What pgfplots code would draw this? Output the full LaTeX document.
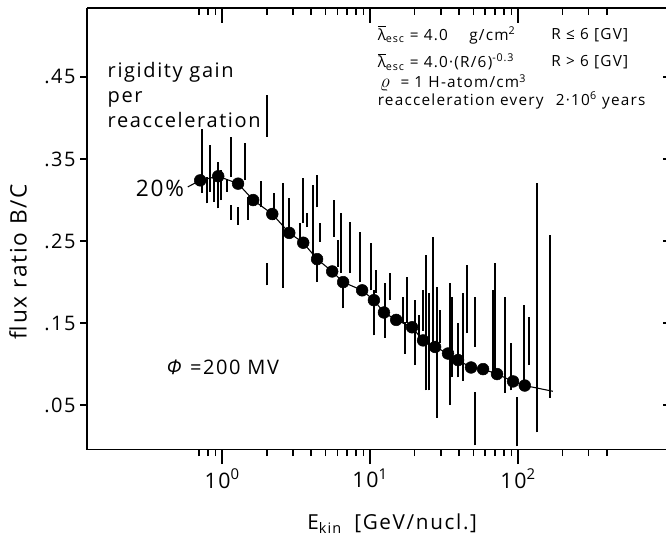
\documentclass[border=0pt]{standalone}
\usepackage{fontspec}
\setmainfont{Open Sans}[LetterSpace=8]
\usepackage{pgfplots}
\usepackage{pgfplotstable}
\pgfplotsset{compat=1.18}

\newcommand\fsz[2]{\fontsize{#1pt}{#2pt}\selectfont}
\newcommand\lesc{\makebox[0pt][l]{\raisebox{1.62ex}{\rule{0.52em}{0.55pt}}}λ\textsubscript{esc}}

% model curve with the dots on it
\pgfplotstableread{
E R
0.71 0.324
0.94 0.329
1.28 0.320
1.62 0.300
2.18 0.283
2.84 0.260
3.53 0.248
4.38 0.228
5.54 0.213
6.57 0.200
8.83 0.190
10.6 0.178
12.4 0.163
15.0 0.154
19.2 0.145
22.8 0.129
27.5 0.121
33.6 0.113
39.3 0.105
48.1 0.096
58.0 0.094
72.1 0.088
92.5 0.079
111 0.074
}\fitpts

\pgfplotstableread{
E R
0.71 0.324
0.94 0.329
1.28 0.320
1.62 0.300
2.18 0.283
2.84 0.260
3.53 0.248
4.38 0.228
5.54 0.213
6.57 0.200
8.83 0.190
10.6 0.178
12.4 0.163
15.0 0.154
19.2 0.145
22.8 0.129
27.5 0.121
33.6 0.113
39.3 0.105
48.1 0.096
58.0 0.094
72.1 0.088
92.5 0.079
111 0.074
172 0.067
}\fitline

% measured ratios: energy, lower and upper end of the bar
\pgfplotstableread{
E lo hi
0.733 0.309 0.387
0.792 0.296 0.328
0.830 0.310 0.367
0.883 0.298 0.333
0.940 0.290 0.346
0.985 0.300 0.337
1.081 0.310 0.324
1.150 0.328 0.377
1.150 0.276 0.294
1.283 0.270 0.292
1.430 0.324 0.370
1.498 0.276 0.304
1.834 0.291 0.323
2.014 0.196 0.223
2.014 0.377 0.428
2.246 0.276 0.309
2.584 0.193 0.321
2.836 0.263 0.302
3.365 0.243 0.272
3.526 0.272 0.327
3.752 0.267 0.284
4.120 0.231 0.318
4.385 0.291 0.330
4.385 0.200 0.231
4.595 0.249 0.272
5.713 0.255 0.300
6.079 0.218 0.251
6.370 0.211 0.284
6.571 0.168 0.206
7.325 0.211 0.273
8.558 0.200 0.261
10.16 0.190 0.248
10.64 0.135 0.190
10.98 0.187 0.215
12.63 0.132 0.199
13.65 0.178 0.211
16.71 0.150 0.182
17.24 0.113 0.151
17.78 0.150 0.206
20.14 0.099 0.178
21.43 0.129 0.160
22.81 0.141 0.190
23.90 0.068 0.233
25.03 0.068 0.187
26.65 0.120 0.255
28.36 0.035 0.194
29.72 0.126 0.166
34.72 0.050 0.199
35.82 0.084 0.182
39.32 0.084 0.150
42.50 0.080 0.187
45.23 0.138 0.221
51.23 0.121 0.182
51.23 0.001 0.066
67.77 0.083 0.190
69.91 0.093 0.223
81.69 0.065 0.182
89.70 0.068 0.126
98.45 0.000 0.060
109.8 0.072 0.172
118.7 0.099 0.157
134.4 0.017 0.321
164.5 0.059 0.257
}\bars

\begin{document}
\begin{tikzpicture}
% bottom axis, data and texts
\begin{axis}[name=main,
  xmode=log, xmin=0.122, xmax=1000,
  ymin=-0.004, ymax=0.534,
  scale only axis, width=434pt, height=331pt,
  xtick={1,10,100},
  minor xtick={0.7,0.8,0.9,2,3,4,5,6,7,8,9,20,30,40,50,60,70,80,90,200,300,400},
  major tick length=11pt, minor tick length=5pt,
  every tick/.style={line width=1.2pt, black},
  axis line style={line width=1.4pt},
  clip=false,
  axis x line*=bottom, axis y line=none,
  tick align=outside,
  xticklabels={10\textsuperscript{0},10\textsuperscript{1},10\textsuperscript{2}},
  xticklabel style={font=\fsz{16}{19}},
]
\addplot[draw=none, mark=none,
  error bars/y dir=plus, error bars/y explicit, error bars/error mark=none,
  error bars/error bar style={draw=black, line width=1.5pt}]
  table[x=E, y=lo, y error expr=\thisrow{hi}-\thisrow{lo}] {\bars};
\addplot[black, line width=0.8pt, mark=none] table[x=E, y=R] {\fitline};
\addplot[black, only marks, mark=*, mark size=4.4pt] table[x=E, y=R] {\fitpts};

\draw[line width=0.8pt] (axis cs:0.585,0.316) -- (axis cs:0.71,0.324);
\node[font=\fsz{17}{20}] at (rel axis cs:0.126,0.592) {20\%};
\node[anchor=north west, align=left, font=\fsz{15}{18.75}] at (rel axis cs:0.0276,0.887)
  {rigidity gain\\per\\reacceleration};
\node[anchor=west, font=\fsz{15}{18}] at (rel axis cs:0.1295,0.186) {\textit{Φ} =200 MV};

\node[anchor=west, font=\fsz{11.5}{14}] at (rel axis cs:0.494,0.939)
  {\lesc\ = 4.0\hspace{1.4em}g/cm\textsuperscript{2}};
\node[anchor=west, font=\fsz{11.5}{14}] at (rel axis cs:0.794,0.939) {R ≤ 6 [GV]};
\node[anchor=west, font=\fsz{11.5}{14}] at (rel axis cs:0.494,0.878)
  {\lesc\ = 4.0·(R/6)\textsuperscript{-0.3}};
\node[anchor=west, font=\fsz{11.5}{14}] at (rel axis cs:0.794,0.878) {R > 6 [GV]};
\node[anchor=west, font=\fsz{11.5}{14}] at (rel axis cs:0.498,0.830)
  {{\fsz{15}{14}$\varrho$}\hspace{0.7em}= 1 H-atom/cm\textsuperscript{3}};
\node[anchor=west, font=\fsz{11.5}{14}] at (rel axis cs:0.494,0.791)
  {reacceleration every\hspace{0.8em}2·10\textsuperscript{6} years};

\node[rotate=90, font=\fsz{17}{20}] at (rel axis cs:-0.119,0.426) {flux ratio B/C};
\node[font=\fsz{15.5}{19}] at (rel axis cs:0.527,-0.168) {E\textsubscript{kin}\hspace{0.6em}[GeV/nucl.]};
\end{axis}

% left axis
\begin{axis}[
  xmode=log, xmin=0.122, xmax=1000,
  ymin=-0.004, ymax=0.534,
  scale only axis, width=434pt, height=331pt,
  axis x line=none, axis y line*=left,
  ytick={0.05,0.15,0.25,0.35,0.45},
  yticklabels={.05,.15,.25,.35,.45},
  major tick length=5pt,
  every tick/.style={line width=1.2pt, black},
  axis line style={line width=1.4pt},
  tick align=outside,
  yticklabel style={font=\fsz{15}{18}},
]
\end{axis}

% top axis
\begin{axis}[
  xmode=log, xmin=0.122, xmax=1000,
  ymin=-0.004, ymax=0.534,
  scale only axis, width=434pt, height=331pt,
  axis x line*=top, axis y line=none,
  xtick={1,10,100},
  minor xtick={0.7,0.8,0.9,2,3,4,5,6,7,8,9,20,30,40,50,60,70,80,90,200,300,400},
  major tick length=11pt, minor tick length=5pt,
  every tick/.style={line width=1.2pt, black},
  axis line style={line width=1.4pt},
  tick align=inside,
  xticklabels={},
]
\end{axis}

% right ticks only
\begin{axis}[
  xmode=log, xmin=0.122, xmax=1000,
  ymin=-0.004, ymax=0.534,
  scale only axis, width=434pt, height=331pt,
  axis x line=none, axis y line*=right,
  y axis line style={draw=none},
  ytick={0.05,0.15,0.25,0.35,0.45},
  major tick length=2.5pt,
  every tick/.style={line width=1.2pt, black},
  tick align=inside,
  yticklabels={},
]
\end{axis}

\pgfresetboundingbox
\path[use as bounding box] ([shift={(-65.25pt,-64.5pt)}]main.south west)
  rectangle ([shift={(0.75pt,6pt)}]main.north east);
\end{tikzpicture}
\end{document}
